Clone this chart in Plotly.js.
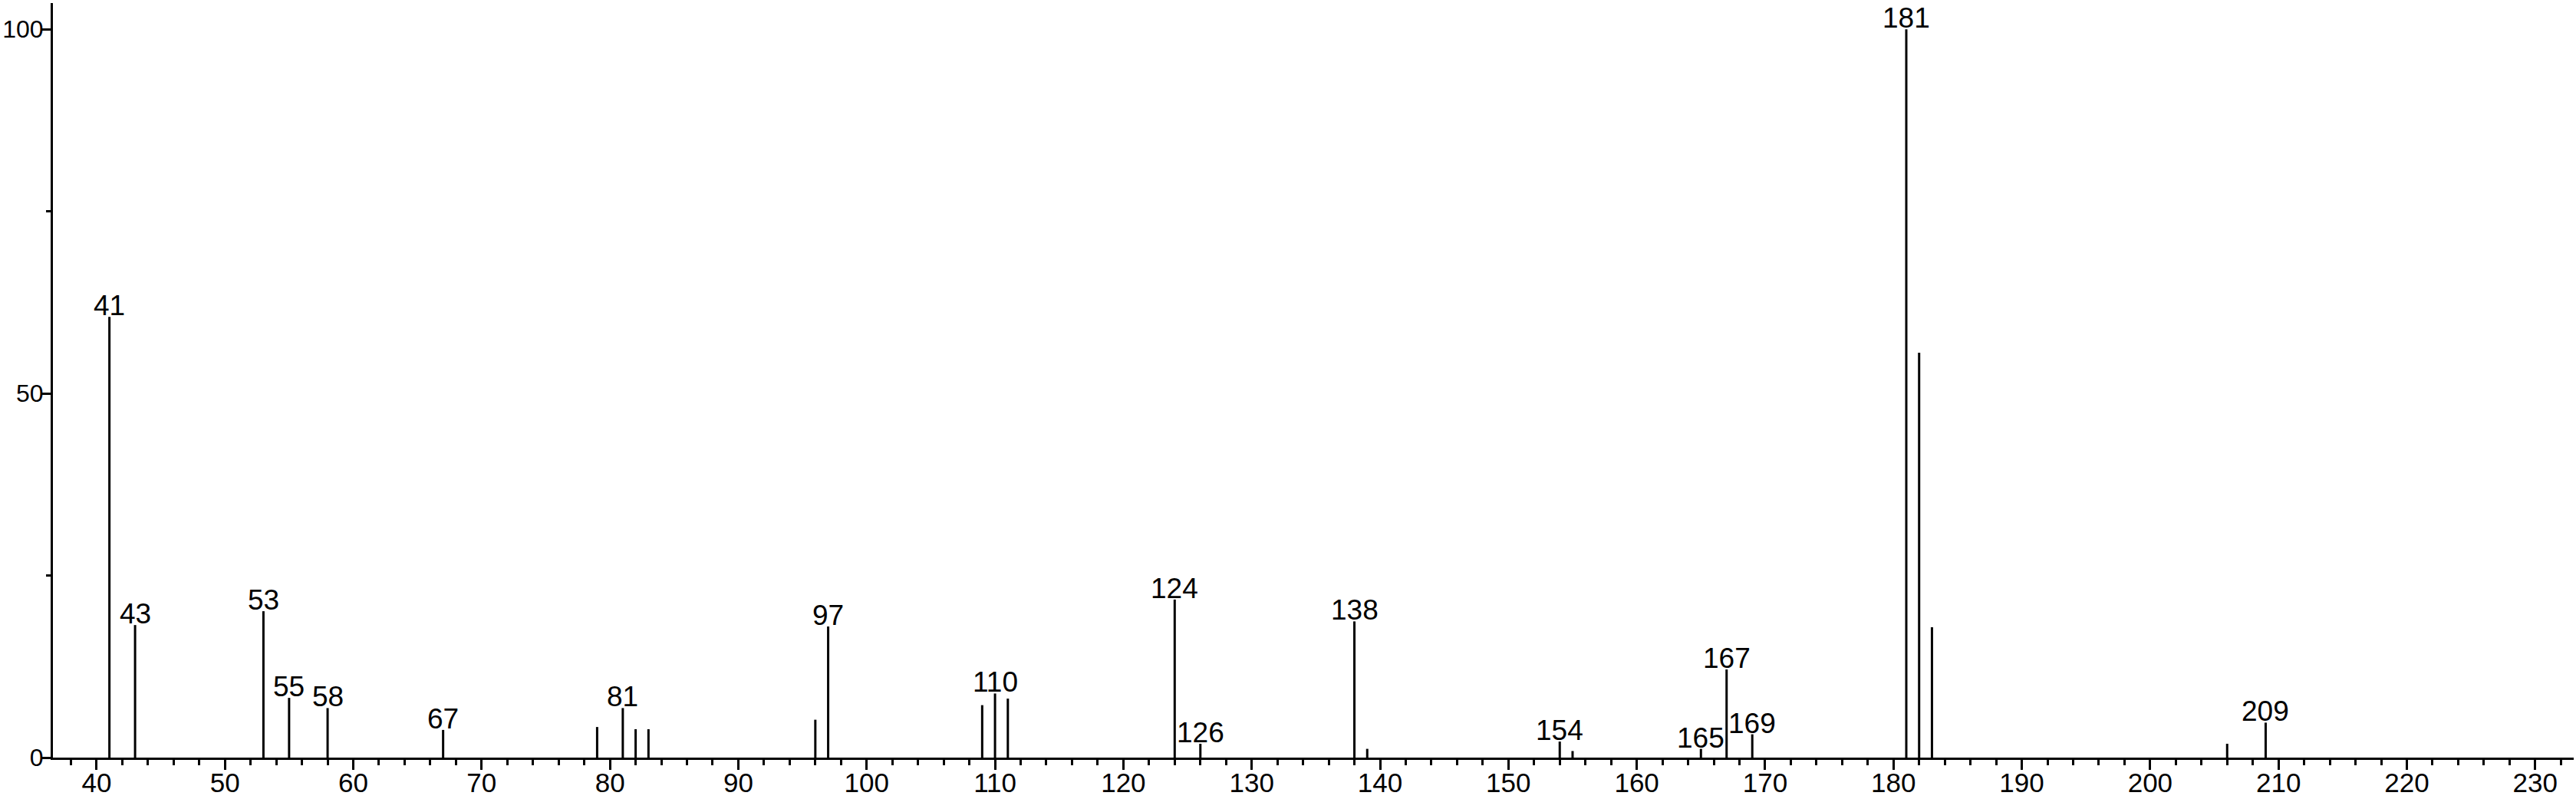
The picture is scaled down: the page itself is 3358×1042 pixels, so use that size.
<!DOCTYPE html>
<html>
<head>
<meta charset="utf-8">
<script src="https://cdn.plot.ly/plotly-3.0.1.min.js"></script>
<style>html,body{margin:0;padding:0;background:#fff;}#chart{width:3358px;height:1042px;}</style>
</head>
<body>
<div id="chart"></div>
<script>
// m/z values and relative intensities (%)
const mz = [41, 43, 53, 55, 58, 67, 79, 81, 82, 83, 96, 97, 109, 110, 111, 124, 126, 138, 139, 154, 155, 165, 167, 169, 181, 182, 183, 206, 209];
const intensity = [60.5, 18.2, 20.1, 8.2, 6.8, 3.8, 4.2, 6.8, 3.9, 3.9, 5.2, 18.0, 7.2, 8.8, 8.1, 21.7, 1.9, 18.7, 1.2, 2.2, 0.9, 1.2, 12.1, 3.2, 100, 55.6, 17.9, 1.9, 4.8];
// peaks that carry a label
const labelledMz = [41, 43, 53, 55, 58, 67, 81, 97, 110, 124, 126, 138, 154, 165, 167, 169, 181, 209];
const labelText = ["41", "43", "53", "55", "58", "67", "81", "97", "110", "124", "126", "138", "154", "165", "167", "169", "181", "209"];
const xTickVals = [40, 50, 60, 70, 80, 90, 100, 110, 120, 130, 140, 150, 160, 170, 180, 190, 200, 210, 220, 230];
const yTickVals = [0, 50, 100];

const sx = [], sy = [];
mz.forEach((m, i) => { sx.push(m, m, null); sy.push(0, intensity[i], null); });

const fam = 'Liberation Sans Narrow, Arial Narrow, Liberation Sans, sans-serif';
const font = {family: fam, size: 37, color: '#000'};
const xTickFont = {family: fam, size: 35, color: '#000'};
const yTickFont = {family: fam, size: 32, color: '#000'};

const traces = [
  {x: sx, y: sy, type: 'scatter', mode: 'lines', line: {color: '#000', width: 3}, hoverinfo: 'skip', showlegend: false, cliponaxis: false}
];

const annotations = labelledMz.map((m, i) => ({
  x: m, y: intensity[mz.indexOf(m)], xref: 'x', yref: 'y',
  text: labelText[i], showarrow: false, xanchor: 'center', yanchor: 'bottom',
  yshift: -7, font: font, borderpad: 0
}));

const layout = {
  width: 3358, height: 1042,
  margin: {l: 69, r: 3, t: 4, b: 54, pad: 0},
  paper_bgcolor: '#fff', plot_bgcolor: '#fff',
  font: font,
  showlegend: false,
  annotations: annotations,
  xaxis: {
    range: [36.6, 233], showgrid: false, zeroline: false,
    showline: true, linecolor: '#000', linewidth: 3,
    ticks: 'outside', ticklen: 13, tickwidth: 3, tickcolor: '#000',
    tickvals: xTickVals, ticktext: xTickVals.map(String), tickfont: xTickFont,
    ticklabelstandoff: -13,
    minor: {dtick: 2, tick0: 0, ticks: 'outside', ticklen: 7, tickwidth: 3, tickcolor: '#000', showgrid: false}
  },
  yaxis: {
    range: [0, 103.6], showgrid: false, zeroline: false,
    showline: true, linecolor: '#000', linewidth: 3,
    ticks: 'outside', ticklen: 12, tickwidth: 3, tickcolor: '#000',
    tickvals: yTickVals, ticktext: yTickVals.map(String), tickfont: yTickFont,
    ticklabelstandoff: -9,
    minor: {dtick: 25, tick0: 0, ticks: 'outside', ticklen: 6, tickwidth: 3, tickcolor: '#000', showgrid: false}
  }
};

Plotly.newPlot('chart', traces, layout, {staticPlot: true, displayModeBar: false});
</script>
</body>
</html>
